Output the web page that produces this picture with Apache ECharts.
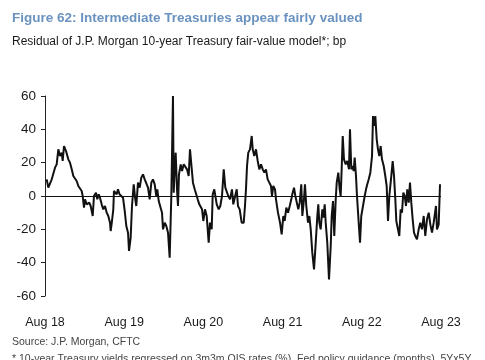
<!DOCTYPE html>
<html>
<head>
<meta charset="utf-8">
<script src="https://cdn.jsdelivr.net/npm/echarts@6/dist/echarts.min.js"></script>
<style>
html,body{margin:0;padding:0;background:#fff;}
#chart{width:485px;height:360px;}
</style>
</head>
<body>
<div id="chart"></div>
<script>
// Months elapsed since Aug 2018
const months = [0.26,0.50,1.02,1.52,1.77,2.02,2.27,2.53,2.68,2.88,3.18,3.53,3.79,4.05,4.29,4.55,4.80,5.05,5.30,5.56,5.71,5.91,6.06,6.32,6.71,6.92,7.23,7.42,7.73,7.92,8.14,8.33,8.59,8.83,9.09,9.35,9.59,9.85,9.95,10.15,10.35,10.45,10.65,10.86,11.06,11.29,11.52,11.82,12.08,12.32,12.58,12.73,12.98,13.18,13.44,13.68,13.83,14.09,14.35,14.59,14.85,15.11,15.35,15.61,15.86,16.11,16.36,16.62,16.86,17.02,17.23,17.47,17.73,17.88,18.14,18.38,18.64,18.89,19.14,19.39,19.50,19.65,19.80,20.00,20.15,20.30,20.56,20.76,21.02,21.26,21.52,21.77,21.97,22.17,22.42,22.68,22.88,23.14,23.38,23.79,23.99,24.24,24.50,24.80,25.00,25.26,25.41,25.65,26.02,26.32,26.56,26.82,27.08,27.32,27.53,27.77,28.03,28.33,28.53,28.79,29.05,29.24,29.50,29.80,30.11,30.30,30.45,30.61,30.80,31.06,31.32,31.47,31.71,31.97,32.23,32.47,32.73,32.99,33.23,33.48,33.74,33.99,34.24,34.39,34.59,34.85,35.00,35.30,35.61,35.86,36.11,36.32,36.56,36.82,37.08,37.32,37.47,37.73,37.93,38.14,38.38,38.59,38.83,38.99,39.24,39.39,39.59,39.85,40.05,40.26,40.50,40.76,41.02,41.26,41.41,41.56,41.77,42.02,42.17,42.38,42.53,42.77,43.03,43.29,43.44,43.64,43.83,44.05,44.20,44.44,44.65,44.80,44.95,45.11,45.30,45.56,45.80,46.06,46.21,46.41,46.62,46.77,46.92,47.12,47.27,47.53,47.73,47.92,48.18,48.44,48.64,48.83,49.05,49.29,49.55,49.70,49.89,50.05,50.26,50.45,50.65,50.86,51.06,51.32,51.56,51.77,51.97,52.17,52.42,52.68,52.88,53.08,53.23,53.48,53.68,53.89,54.09,54.29,54.50,54.70,54.89,55.11,55.30,55.50,55.71,55.91,56.11,56.36,56.62,56.86,57.12,57.38,57.62,57.88,58.14,58.38,58.64,58.89,59.14,59.24,59.39,59.65,59.85];
// Residual, bp
const residual = [10,5,10,17,19,28,24,26,21,30,27,22,20,16,12,13,9,6,5,3,0,-7,-2,-5,-4,-6,-12,0,2,-2,1,-1,-5,-8,-6,-10,-12,-16,-21,-15,-8,3,4,1,4,1,0,-1,-9,-18,-22,-33,-25,-6,7,-2,-6,8,5,11,13,10,9,5,-2,8,10,7,0,4,-3,-2,-10,-20,-16,-18,-22,-37,0,60,2,16,26,4,-6,13,19,15,19,19,16,12,28,19,8,4,4,-2,-5,-8,-15,-8,-12,-28,-16,-20,1,4,-5,-8,-6,0,16,5,4,0,-2,4,-5,-6,4,-6,-8,-16,-16,-6,4,18,26,28,36,28,24,28,21,16,19,16,14,16,10,8,6,0,6,4,-2,-10,-16,-23,-12,-15,-7,-10,-6,-2,1,5,0,0,-8,-4,7,-12,-2,7,-6,-16,-12,-20,-34,-44,-28,-12,-5,-16,-20,-8,-13,-5,-16,-28,-50,-30,-12,-3,-24,-2,8,14,4,0,16,36,22,19,21,16,40,16,18,15,23,12,0,-16,-28,-12,-6,0,4,7,10,14,24,48,42,48,34,28,24,30,22,18,12,6,-15,0,10,21,12,-2,-15,-20,-24,-8,-10,2,0,-6,4,-4,8,-4,-14,-22,-24,-26,-20,-16,-20,-12,-24,-14,-10,-17,-22,-16,-17,-6,-20,-17,7];
const yearLabels = ['Aug 18','Aug 19','Aug 20','Aug 21','Aug 22','Aug 23'];
const yTicks = [-60,-40,-20,0,20,40,60];

const chart = echarts.init(document.getElementById('chart'), null, {renderer:'canvas'});
const font = '"Liberation Sans", Arial, sans-serif';
chart.setOption({
  animation: false,
  backgroundColor: '#ffffff',
  graphic: [
    {type:'text', left:12, top:11, style:{text:'Figure 62: Intermediate Treasuries appear fairly valued', font:'bold 13.5px ' + font, fill:'#6b93bf'}},
    {type:'text', left:12, top:36, style:{text:'Residual of J.P. Morgan 10-year Treasury fair-value model*; bp', font:'12px ' + font, fill:'#1a1a1a'}},
    {type:'text', left:12, top:337, style:{text:'Source: J.P. Morgan, CFTC', font:'10.5px ' + font, fill:'#444'}},
    {type:'text', left:12, top:354, style:{text:'* 10-year Treasury yields regressed on 3m3m OIS rates (%), Fed policy guidance (months), 5Yx5Y', font:'10.5px ' + font, fill:'#444'}}
  ],
  grid: {left:45, right:44, top:96, bottom:64},
  xAxis: {
    type:'value', min:0, max:60, interval:12,
    axisLine:{show:false, onZero:false}, axisTick:{show:false}, splitLine:{show:false},
    axisLabel:{color:'#1a1a1a', fontSize:12.5, fontFamily:font, margin:20,
      formatter: v => yearLabels[Math.round(v/12)]}
  },
  yAxis: {
    type:'value', min:yTicks[0], max:yTicks[yTicks.length-1], interval:20,
    axisLine:{show:true, lineStyle:{color:'#222', width:1}},
    axisTick:{show:true, length:4, inside:false, lineStyle:{color:'#222'}},
    splitLine:{show:false},
    axisLabel:{color:'#1a1a1a', fontSize:13.5, fontFamily:font, margin:9}
  },
  series: [{
    type:'line', data: months.map((m,i)=>[m, residual[i]]),
    showSymbol:false, symbol:'none',
    lineStyle:{color:'#111', width:2},
    markLine:{silent:true, symbol:'none', label:{show:false},
      lineStyle:{color:'#111', width:1, type:'solid'},
      data:[{yAxis:0}]}
  }]
});
</script>
</body>
</html>
